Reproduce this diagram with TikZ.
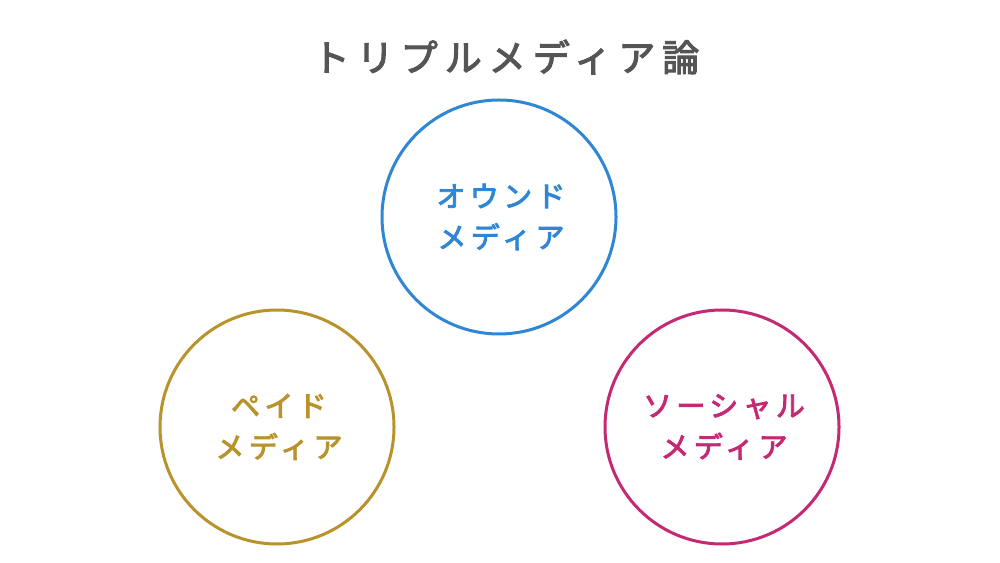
\documentclass[tikz,border=0pt]{standalone}
\usepackage{fontspec}
\newfontfamily\jptitle{Noto Sans CJK JP}[LetterSpace=19,FakeBold=3]
\newfontfamily\jplabel{Noto Sans CJK JP}[LetterSpace=15,FakeBold=3]
\definecolor{titlegray}{HTML}{555555}
\definecolor{ownedblue}{HTML}{2F86D4}
\definecolor{paidgold}{HTML}{B8922A}
\definecolor{socialpink}{HTML}{C42A73}
\begin{document}
\begin{tikzpicture}[x=1pt,y=1pt,
  mediacircle/.style={circle,draw=#1,line width=3pt,minimum size=234pt,inner sep=0pt,
    text=#1,align=center,font=\jplabel\fontsize{29}{41}\selectfont},
  titletext/.style={text=titlegray,font=\jptitle\fontsize{37}{44}\selectfont}]
\useasboundingbox[fill=white] (0,0) rectangle (1000,562);
\node[titletext] (title) at (506,505) {トリプルメディア論};
\node[mediacircle=ownedblue] (owned) at (499,345) {\hspace*{4pt}オウンド\\\hspace*{4pt}メディア};
\node[mediacircle=paidgold] (paid) at (277,135) {\hspace*{4pt}ペイド\\\hspace*{4pt}メディア};
\node[mediacircle=socialpink] (social) at (722,135) {\hspace*{4pt}ソーシャル\\\hspace*{4pt}メディア};
\end{tikzpicture}
\end{document}
